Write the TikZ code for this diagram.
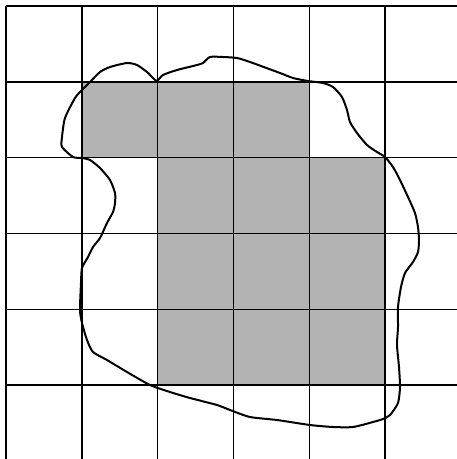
\documentclass[tikz,border=0pt]{standalone}
\usepackage{tikz}
\definecolor{cCell}{RGB}{179,179,179}

\begin{document}
\begin{tikzpicture}[x=1pt, y=-1pt,
  gridline/.style={black, line width=1.4pt},
  outline/.style={black, line width=2pt, line join=round}]
\useasboundingbox (0,0) rectangle (457,459);
% covered cells
\foreach \c/\r in {1/1,2/1,3/1,2/2,3/2,4/2,2/3,3/3,4/3,2/4,3/4,4/4} {
  \fill[cCell] ({6+\c*75.8},{6+\r*75.8}) rectangle ++(75.8,75.8);
}
% grid
\foreach \i in {0,...,5} {
  \draw[gridline] ({6+\i*75.8},6) -- ({6+\i*75.8},459);
  \draw[gridline] (6,{6+\i*75.8}) -- (457,{6+\i*75.8});
}
% region boundary
\draw[outline] plot[smooth cycle, tension=0.4] coordinates {
  (157,81) (163,75) (177,70) (197,65) (203,63) (210,57) (223,57) (237,58)
  (250,62) (280,73) (293,78) (308,81) (323,83) (333,87) (342,97) (347,110)
  (350,122) (357,133) (367,145) (377,152) (385,157) (393,167) (400,180)
  (408,197) (415,213) (418,227) (419,240) (418,252) (413,262) (405,273)
  (401,287) (398,307) (398,327) (397,345) (399,367) (400,387) (398,403)
  (390,415) (383,419) (373,422) (353,427) (333,427) (310,425) (277,420)
  (250,417) (230,410) (217,405) (190,398) (170,392) (150,385) (127,372)
  (107,360) (93,352) (87,340) (82,323) (80,310) (81,283) (82,268) (88,257)
  (93,247) (100,238) (107,223) (113,212) (115,203) (115,193) (110,180)
  (100,168) (90,160) (82,158) (73,157) (62,147) (62,137) (65,118) (75,98)
  (82,90) (90,82) (100,72) (110,67) (127,63) (137,65) (147,72) (153,78)};
\end{tikzpicture}
\end{document}
